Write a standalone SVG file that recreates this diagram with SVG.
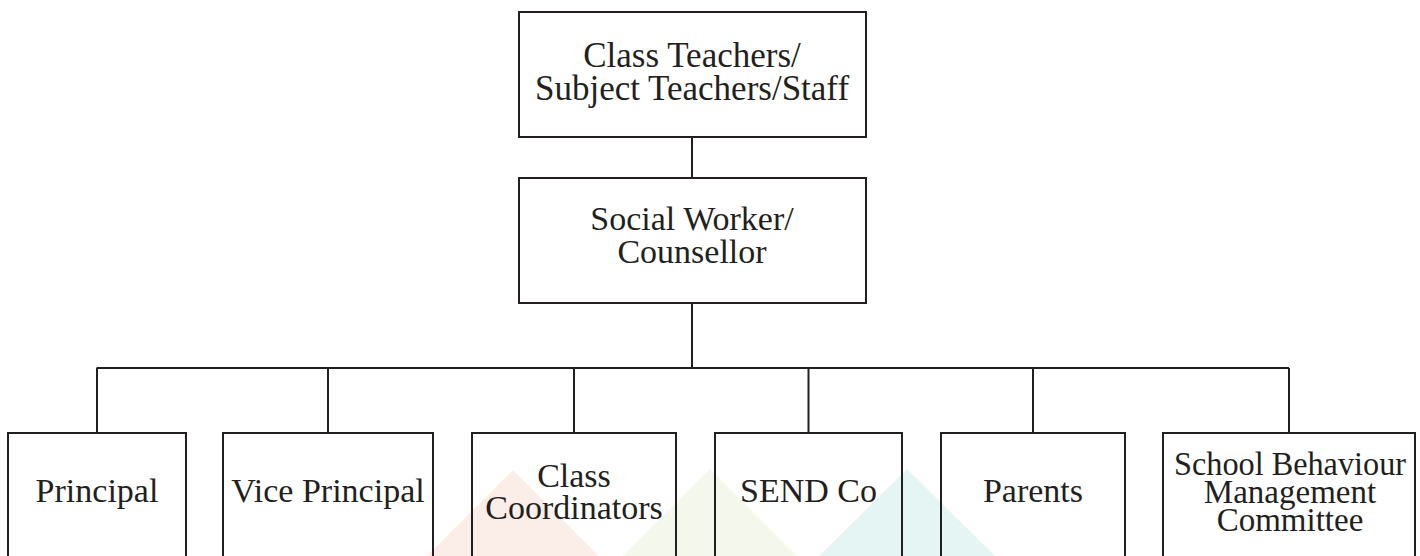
<svg xmlns="http://www.w3.org/2000/svg" width="1420" height="556" viewBox="0 0 1420 556">
<style>
.box{fill:none;stroke:#231F20;stroke-width:2}
.conn{fill:none;stroke:#231F20;stroke-width:2}
.t{font-family:"Liberation Serif","Times New Roman",serif;font-size:34px;fill:#231F20;text-anchor:middle}
.tt{font-size:35px}
.ts{font-size:33px}
</style>
<rect width="1420" height="556" fill="#FFFFFF"/>
<g id="watermark">
<polygon points="513,470 599,556 427,556" fill="#FBEEE8"/>
<polygon points="710,469 797,556 623,556" fill="#F4F7EC"/>
<polygon points="907,469 995,556 819,556" fill="#E5F5F3"/>
</g>
<g id="connectors">
<line class="conn" x1="692" y1="137" x2="692" y2="178"/>
<line class="conn" x1="692" y1="303" x2="692" y2="368"/>
<line class="conn" x1="96.5" y1="368" x2="1289" y2="368"/>
<line class="conn" x1="97" y1="368" x2="97" y2="433"/>
<line class="conn" x1="328" y1="368" x2="328" y2="433"/>
<line class="conn" x1="574" y1="368" x2="574" y2="433"/>
<line class="conn" x1="808.5" y1="368" x2="808.5" y2="433"/>
<line class="conn" x1="1033" y1="368" x2="1033" y2="433"/>
<line class="conn" x1="1289" y1="368" x2="1289" y2="433"/>
</g>
<g id="node-teachers">
<rect class="box" x="519" y="12" width="347" height="125"/>
<text class="t tt" x="692" y="67">Class Teachers/</text>
<text class="t tt" x="692" y="100">Subject Teachers/Staff</text>
</g>
<g id="node-social">
<rect class="box" x="519" y="178" width="347" height="125"/>
<text class="t" x="692" y="230">Social Worker/</text>
<text class="t" x="692" y="263">Counsellor</text>
</g>
<g id="node-principal">
<rect class="box" x="8" y="433" width="178" height="140"/>
<text class="t" x="97" y="502">Principal</text>
</g>
<g id="node-vice">
<rect class="box" x="223" y="433" width="210" height="140"/>
<text class="t" x="328" y="502">Vice Principal</text>
</g>
<g id="node-coord">
<rect class="box" x="472" y="433" width="204" height="140"/>
<text class="t" x="574" y="487">Class</text>
<text class="t" x="574" y="519">Coordinators</text>
</g>
<g id="node-send">
<rect class="box" x="715" y="433" width="187" height="140"/>
<text class="t" x="808.5" y="502">SEND Co</text>
</g>
<g id="node-parents">
<rect class="box" x="941" y="433" width="184" height="140"/>
<text class="t" x="1033" y="502">Parents</text>
</g>
<g id="node-sbmc">
<rect class="box" x="1163" y="433" width="252" height="140"/>
<text class="t ts" x="1290" y="475" textLength="232" lengthAdjust="spacingAndGlyphs">School Behaviour</text>
<text class="t ts" x="1290" y="503">Management</text>
<text class="t ts" x="1290" y="531">Committee</text>
</g>
</svg>
